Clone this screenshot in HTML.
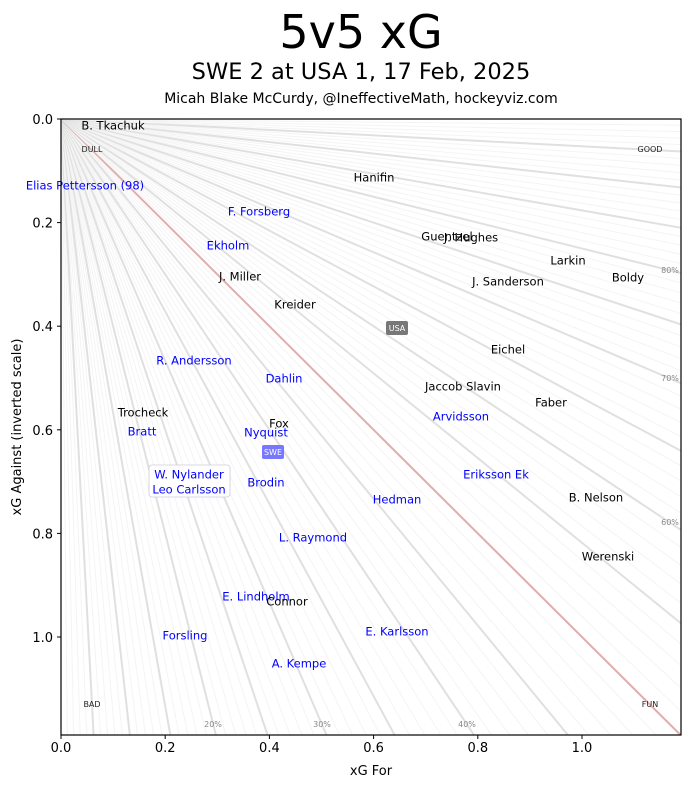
<!DOCTYPE html>
<html><head><meta charset="utf-8"><style>
body{margin:0;background:#fff;}
svg text{font-family:"DejaVu Sans","Liberation Sans",sans-serif;}
</style></head><body>
<svg id="s" width="691" height="788" xmlns="http://www.w3.org/2000/svg">
<defs><clipPath id="c"><rect x="61" y="119" width="620" height="616"/></clipPath></defs>
<rect width="691" height="788" fill="#fff"/>
<g id="lines" clip-path="url(#c)"></g>
<text x="361" y="48" font-size="46" text-anchor="middle">5v5 xG</text>
<text x="361" y="79" font-size="22.5" text-anchor="middle">SWE 2 at USA 1, 17 Feb, 2025</text>
<text x="361" y="103" font-size="14" text-anchor="middle">Micah Blake McCurdy, @IneffectiveMath, hockeyviz.com</text>
<g font-size="8" fill="#888" text-anchor="middle">
<text x="213" y="727">20%</text><text x="322" y="727">30%</text><text x="467" y="727">40%</text>
<text x="670" y="525">60%</text><text x="670" y="381">70%</text><text x="670" y="273">80%</text>
</g>
<g font-size="8" fill="#222" text-anchor="middle">
<text x="92" y="152">DULL</text><text x="650" y="152">GOOD</text>
<text x="92" y="707">BAD</text><text x="650" y="707">FUN</text>
</g>
<g font-size="11.5" text-anchor="middle" id="pl"></g>
<rect x="61" y="119" width="620" height="616" fill="none" stroke="#000" stroke-width="1.2"/>
<g id="ax" font-size="13"></g>
<text x="371" y="775" font-size="13" text-anchor="middle">xG For</text>
<text transform="translate(21,427) rotate(-90)" font-size="13" text-anchor="middle">xG Against (inverted scale)</text>
</svg>
<script>
const NS="http://www.w3.org/2000/svg";
function el(p,t,a,txt){const e=document.createElementNS(NS,t);for(const k in a)e.setAttribute(k,a[k]);if(txt!==undefined)e.textContent=txt;p.appendChild(e);return e;}
const X=v=>61+v*521, Y=v=>119+v*518;
const L=document.getElementById('lines');
for(let i=1;i<100;i++){
 const p=i/100; const slope=(1-p)/p;
 let x=1.2,y=slope*1.2; if(y>1.2){y=1.2;x=1.2/slope;}
 let st,w;
 if(i===50){st="#e3acac";w=2;}
 else if(i%5===0){st="#e0e0e0";w=2;}
 else {st="#f4f4f4";w=1;}
 el(L,'line',{x1:X(0),y1:Y(0),x2:X(x),y2:Y(y),stroke:st,'stroke-width':w});
}
const pl=document.getElementById('pl');
const B="#0000ff",K="#000";
const P=[["B. Tkachuk",113,125,K],["Elias Pettersson (98)",85,185,B],["F. Forsberg",259,211,B],["Hanifin",374,177,K],["Ekholm",228,245,B],["Guentzel",447,236,K],["J. Hughes",471,237,K],["Larkin",568,260,K],["Boldy",628,277,K],["J. Miller",240,276,K],["J. Sanderson",508,281,K],["Kreider",295,304,K],["Eichel",508,349,K],["R. Andersson",194,360,B],["Dahlin",284,378,B],["Jaccob Slavin",463,386,K],["Faber",551,402,K],["Arvidsson",461,416,B],["Trocheck",143,412,K],["Fox",279,423,K],["Bratt",142,431,B],["Nyquist",266,432,B],["Eriksson Ek",496,474,B],["Brodin",266,482,B],["B. Nelson",596,497,K],["Hedman",397,499,B],["L. Raymond",313,537,B],["Werenski",608,556,K],["E. Lindholm",256,596,B],["Connor",287,601,K],["E. Karlsson",397,631,B],["Forsling",185,635,B],["A. Kempe",299,663,B]];
el(pl,'rect',{x:149,y:465,width:81,height:32,fill:"#fff",stroke:"#ccd",'stroke-width':0.8,rx:3});
P.push(["W. Nylander",189,474,B],["Leo Carlsson",189,489,B]);
for(const [t,x,y,c] of P) el(pl,'text',{x:x,y:y+4.5,fill:c},t);
el(pl,'rect',{x:386,y:321,width:22,height:14,fill:"#777",rx:2});
el(pl,'text',{x:397,y:331,fill:"#fff",'font-size':8},"USA");
el(pl,'rect',{x:262,y:445,width:22,height:14,fill:"#7777ff",rx:2});
el(pl,'text',{x:273,y:455,fill:"#fff",'font-size':8},"SWE");
const ax=document.getElementById('ax');
for(let i=0;i<=5;i++){const v=i*0.2,x=X(v);
 el(ax,'line',{x1:x,y1:735,x2:x,y2:739,stroke:"#000"});
 el(ax,'text',{x:x,y:752,'text-anchor':'middle'},v.toFixed(1));
 const y=Y(v);
 el(ax,'line',{x1:57,y1:y,x2:61,y2:y,stroke:"#000"});
 el(ax,'text',{x:53,y:y+5,'text-anchor':'end'},v.toFixed(1));
}
</script>
</body></html>
